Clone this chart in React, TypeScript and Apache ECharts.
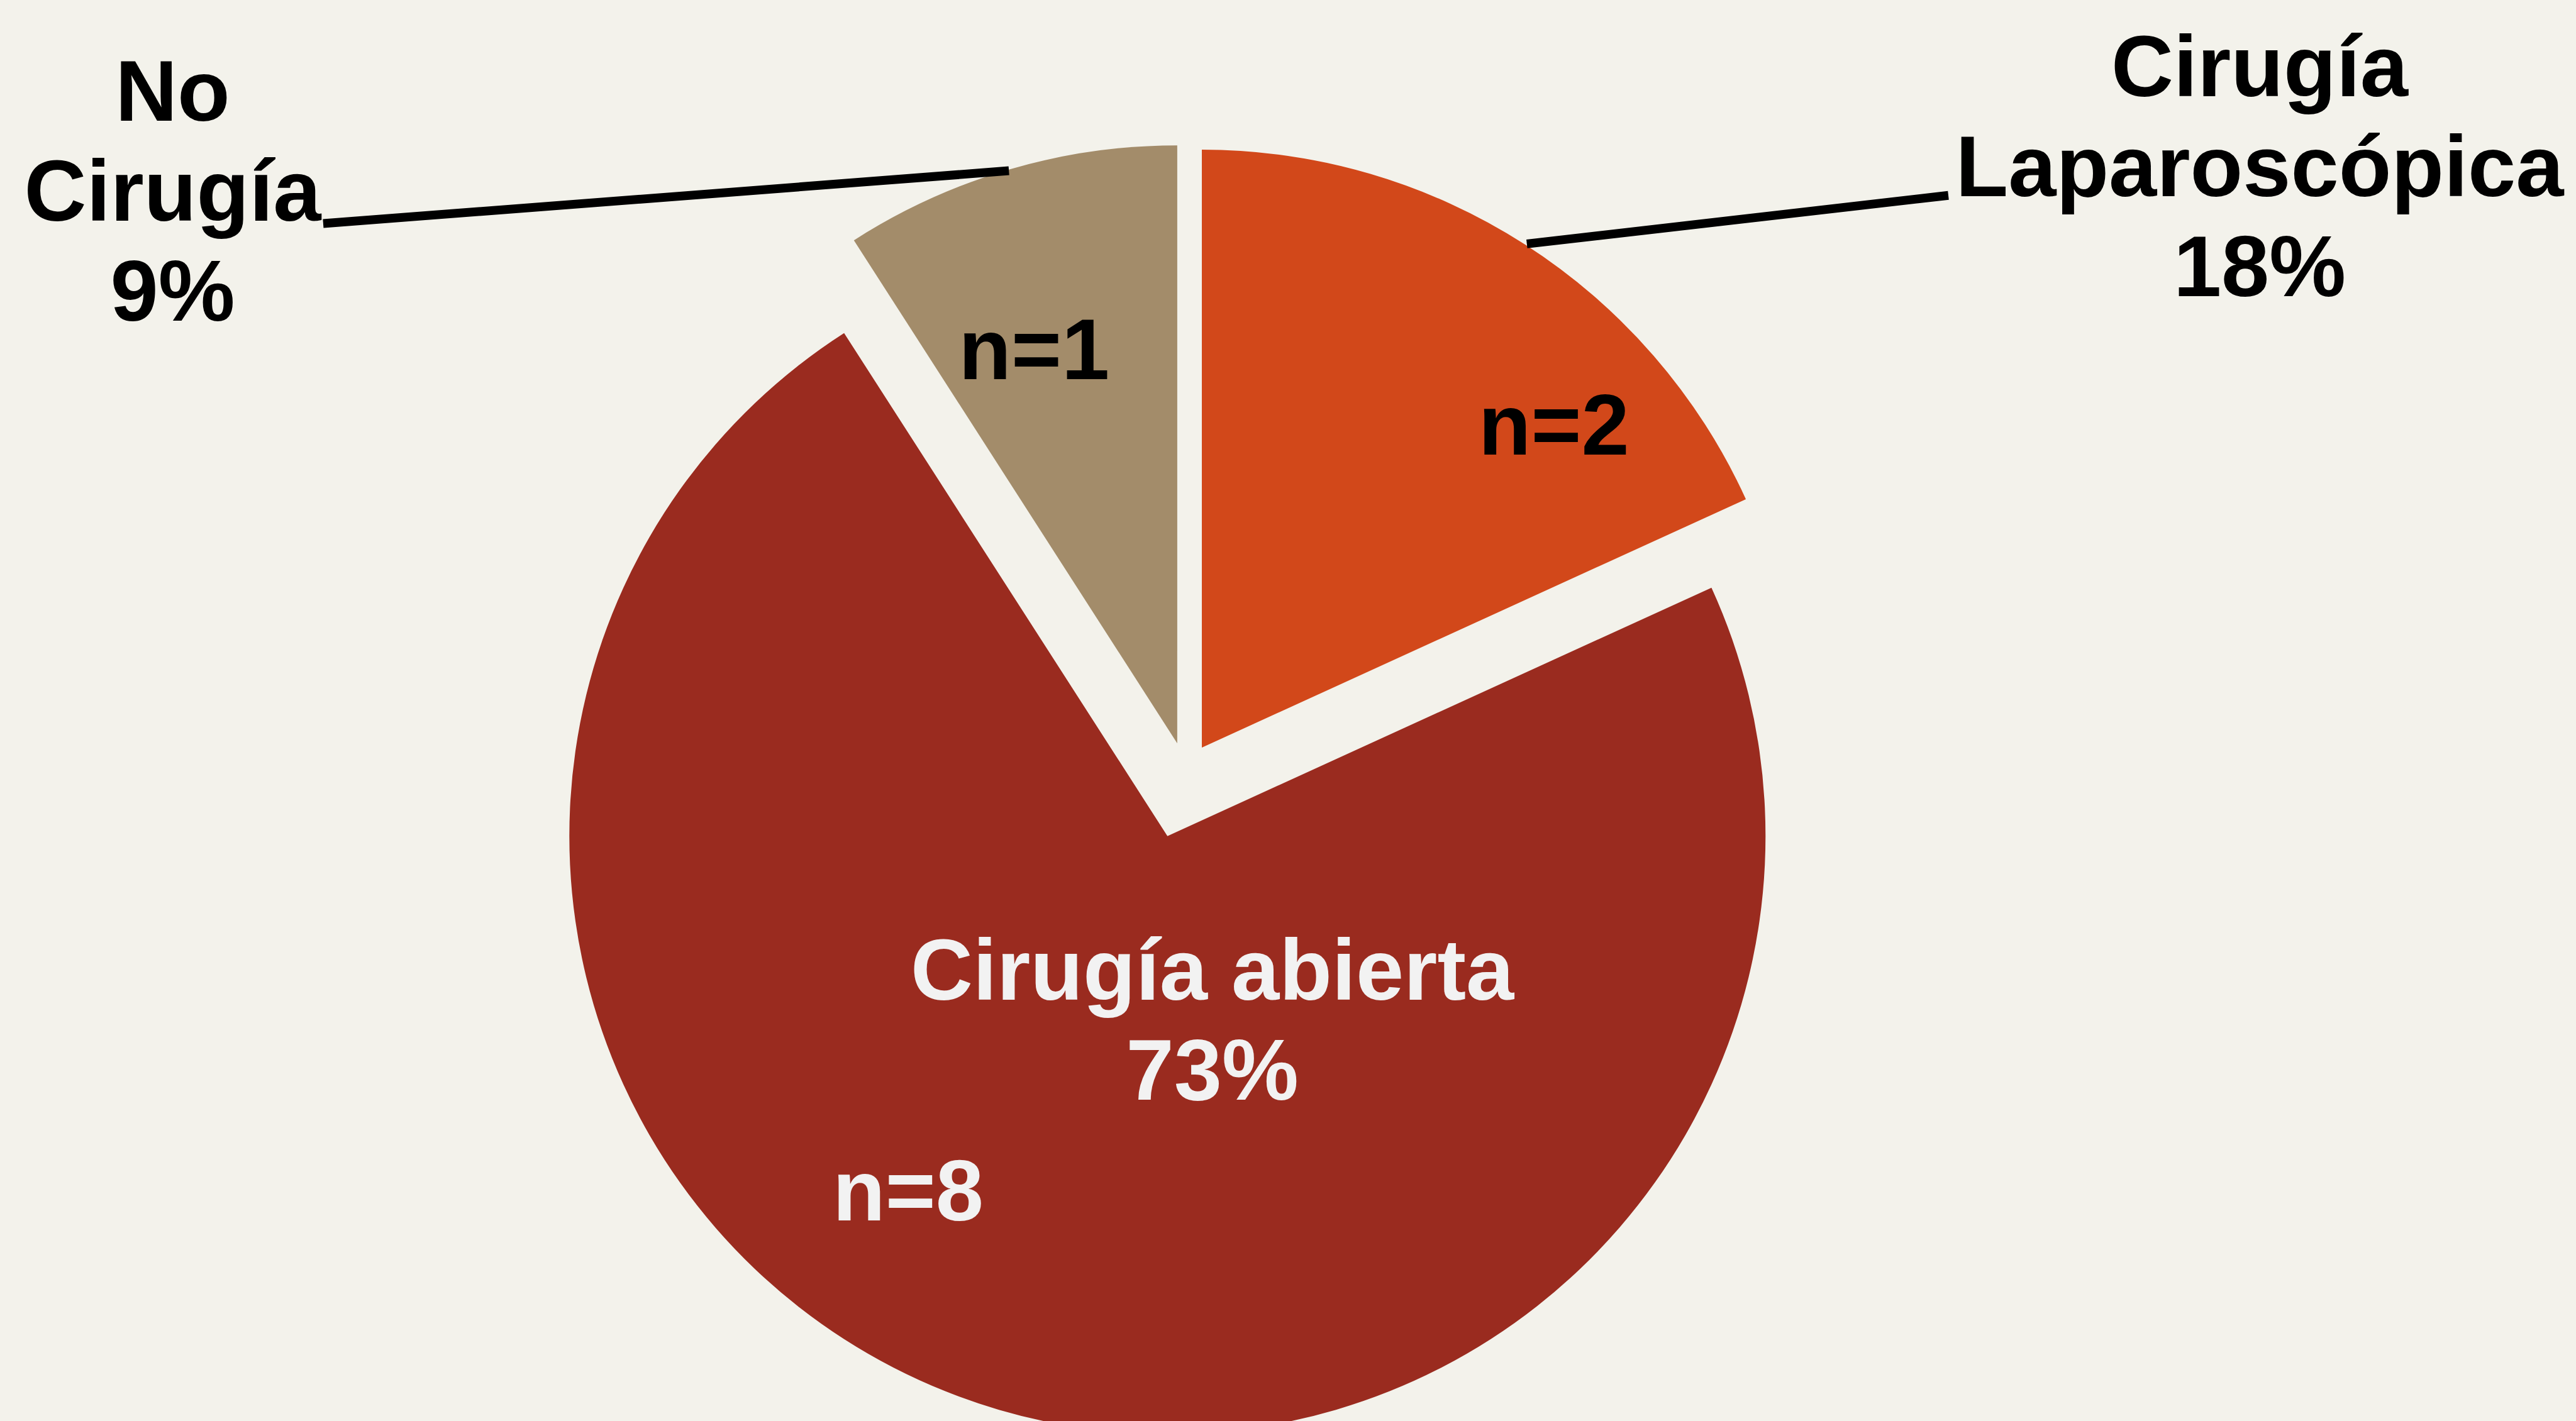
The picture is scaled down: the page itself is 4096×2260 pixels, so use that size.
import React, { useEffect, useRef } from "react";
import * as echarts from "echarts";

// ---- data ----
const categories = ["Cirugía Laparoscópica", "Cirugía abierta", "No Cirugía"];
const nameLines = [["Cirugía", "Laparoscópica"], ["Cirugía abierta"], ["No", "Cirugía"]];
const counts = [2, 8, 1];
const countLabels = ["n=2", "n=8", "n=1"];

// ---- styles / layout ----
const sliceColors = ["#D2481A", "#9A2B1F", "#A38C6A"];
const BG = "#F3F2EB";
const FONT = "'Liberation Sans', Arial, sans-serif";
const FS = 137;
const LH = 159;
const RADIUS = 951;
// each slice is pulled out from the centre by its own amount
const sliceCenters = [
  [1911.0, 1189.0],
  [1856.3, 1329.7],
  [1871.9, 1182.2],
];
// name label anchors: [centre x, first baseline], colour
const nameAnchors = [
  { x: 3593, y: 153.4, color: "#000000" },
  { x: 1927.6, y: 1589.6, color: "#F2F2F2" },
  { x: 274.5, y: 191.5, color: "#000000" },
];
const countAnchors = [
  { x: 2470.8, y: 723, color: "#000000" },
  { x: 1444, y: 1941.3, color: "#F2F2F2" },
  { x: 1644.3, y: 602.8, color: "#000000" },
];
const leaderLines = [
  [2427.8, 387.9, 3098, 310.7],
  null,
  [513.9, 355.6, 1604.2, 271.6],
];

export default function App() {
  const ref = useRef<HTMLDivElement>(null);
  useEffect(() => {
    document.body.style.margin = "0";
    const chart = echarts.init(ref.current!, null, { renderer: "svg" });
    const total = counts.reduce((a, b) => a + b, 0);
    const pct = counts.map((c) => Math.round((c / total) * 100) + "%");

    const series = counts.map((_, si) => ({
      type: "pie",
      center: sliceCenters[si],
      radius: [0, RADIUS],
      startAngle: 90,
      clockwise: true,
      silent: true,
      z: 2,
      avoidLabelOverlap: false,
      label: { show: false },
      labelLine: { show: false },
      emphasis: { disabled: true },
      data: counts.map((v, i) => ({
        name: categories[i],
        value: v,
        itemStyle: {
          color: i === si ? sliceColors[i] : "rgba(0,0,0,0)",
          borderWidth: 0,
        },
      })),
    }));

    const middleOffset = FS * 0.3465;
    const graphics: any[] = [];
    counts.forEach((_, i) => {
      const lines = [...nameLines[i], pct[i]];
      const a = nameAnchors[i];
      lines.forEach((t, li) => {
        graphics.push({
          type: "text",
          x: a.x,
          y: a.y + li * LH - middleOffset,
          z: 100,
          silent: true,
          style: {
            text: t,
            fill: a.color,
            font: `bold ${FS}px ${FONT}`,
            align: "center",
            verticalAlign: "middle",
          },
        });
      });
      const c = countAnchors[i];
      graphics.push({
        type: "text",
        x: c.x,
        y: c.y - middleOffset,
        z: 100,
        silent: true,
        style: {
          text: countLabels[i],
          fill: c.color,
          font: `bold ${FS}px ${FONT}`,
          align: "center",
          verticalAlign: "middle",
        },
      });
      const l = leaderLines[i];
      if (l) {
        graphics.push({
          type: "line",
          z: 100,
          silent: true,
          shape: { x1: l[0], y1: l[1], x2: l[2], y2: l[3] },
          style: { stroke: "#000000", lineWidth: 14, lineCap: "butt" },
        });
      }
    });

    chart.setOption({
      animation: false,
      backgroundColor: BG,
      series,
      graphic: { elements: graphics },
    });
    return () => chart.dispose();
  }, []);
  return (
    <div
      ref={ref}
      style={{ position: "fixed", left: 0, top: 0, width: 4096, height: 2260 }}
    />
  );
}
